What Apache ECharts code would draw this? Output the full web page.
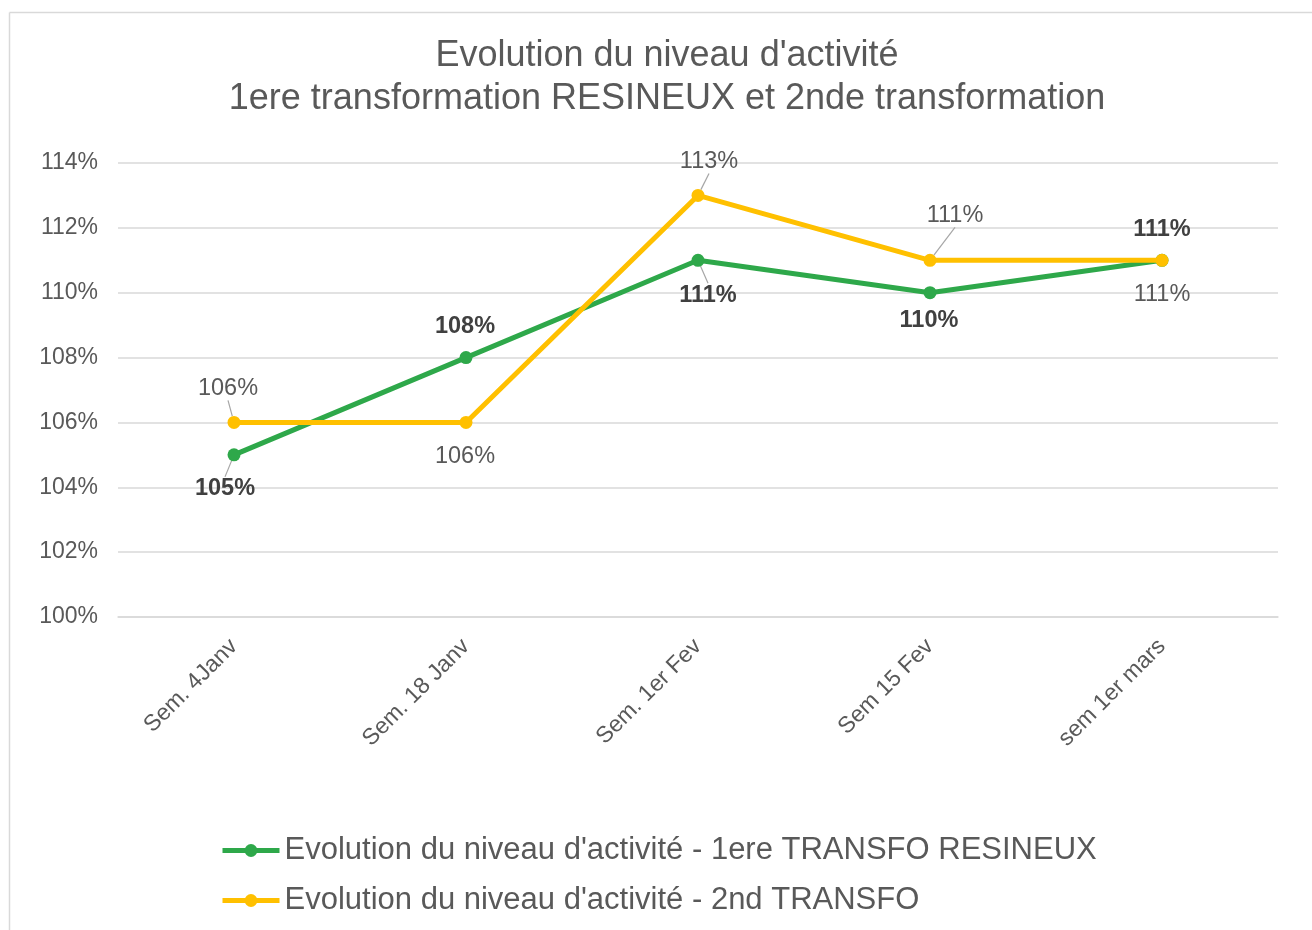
<!DOCTYPE html>
<html>
<head>
<meta charset="utf-8">
<script src="https://cdn.jsdelivr.net/npm/echarts@6/dist/echarts.min.js"></script>
<style>
html,body{margin:0;padding:0;background:#fff;}
#main{width:1312px;height:930px;}
</style>
</head>
<body>
<div id="main"></div>
<script>
const categories = ['Sem. 4Janv', 'Sem. 18 Janv', 'Sem. 1er Fev', 'Sem 15 Fev', 'sem 1er mars'];
const seriesNames = ["Evolution du niveau d'activité - 1ere TRANSFO RESINEUX", "Evolution du niveau d'activité - 2nd TRANSFO"];
const resineux = [105, 108, 111, 110, 111];
const secondTransfo = [106, 106, 113, 111, 111];
const yTicks = { min: 100, max: 114, interval: 2 };

// label placement (offset of label centre from the point, px) and leader-line flags
const labelOffsets = [
  [[-9, 34], [-1, -31], [10, 35], [-1, 28], [0, -31]],
  [[-6, -34], [-1, 34], [11, -34], [25, -45], [0, 34]]
];
const leaders = [
  [true, false, true, false, false],
  [true, false, true, true, false]
];

const FONT = '"Liberation Sans", Arial, sans-serif';
const chart = echarts.init(document.getElementById('main'));

function buildData(vals, si) {
  return vals.map((v, i) => ({
    value: v,
    labelLine: { show: leaders[si][i], lineStyle: { color: '#a6a6a6', width: 1.2 } }
  }));
}

chart.setOption({
  backgroundColor: '#fff',
  animation: false,
  textStyle: { fontFamily: FONT },
  graphic: [
    { type: 'line', shape: { x1: 9.5, y1: 12.5, x2: 1312, y2: 12.5 }, style: { stroke: '#d9d9d9', lineWidth: 1.5 } },
    { type: 'line', shape: { x1: 9.5, y1: 12.5, x2: 9.5, y2: 930 }, style: { stroke: '#d9d9d9', lineWidth: 1.5 } }
  ],
  title: {
    text: "Evolution du niveau d'activité\n1ere transformation RESINEUX et 2nde transformation",
    left: 667,
    textAlign: 'center',
    top: 35,
    padding: 0,
    textStyle: { fontFamily: FONT, fontSize: 36, fontWeight: 'normal', color: '#595959', lineHeight: 43 }
  },
  legend: {
    orient: 'vertical',
    left: 220,
    top: 835,
    padding: 0,
    itemWidth: 57,
    itemHeight: 16,
    itemGap: 19,
    lineStyle: { width: 5 },
    textStyle: { fontFamily: FONT, fontSize: 31, color: '#595959' },
    data: seriesNames
  },
  grid: { left: 118, right: 34, top: 163, bottom: 313, containLabel: false },
  xAxis: {
    type: 'category',
    data: categories,
    boundaryGap: true,
    axisLine: { show: true, lineStyle: { color: '#d9d9d9', width: 1.5 } },
    axisTick: { show: false },
    axisLabel: { rotate: 45, fontSize: 23, color: '#595959', margin: 26, fontFamily: FONT, interval: 0 }
  },
  yAxis: {
    type: 'value',
    min: yTicks.min,
    max: yTicks.max,
    interval: yTicks.interval,
    axisLine: { show: false },
    axisTick: { show: false },
    splitLine: { lineStyle: { color: '#d9d9d9', width: 1.5 } },
    axisLabel: { formatter: '{value}%', fontSize: 23, color: '#595959', margin: 20, fontFamily: FONT }
  },
  series: [
    {
      name: seriesNames[0],
      type: 'line',
      data: buildData(resineux, 0),
      color: '#2ea84a',
      lineStyle: { width: 5, color: '#2ea84a' },
      symbol: 'circle',
      symbolSize: 13,
      itemStyle: { color: '#2ea84a' },
      z: 3,
      label: {
        show: true, position: 'inside', formatter: '{c}%',
        fontSize: 23.5, fontWeight: 'bold', color: '#404040', fontFamily: FONT
      },
      labelLayout: p => ({ dx: labelOffsets[0][p.dataIndex][0], dy: labelOffsets[0][p.dataIndex][1] })
    },
    {
      name: seriesNames[1],
      type: 'line',
      data: buildData(secondTransfo, 1),
      color: '#ffc000',
      lineStyle: { width: 5, color: '#ffc000' },
      symbol: 'circle',
      symbolSize: 13,
      itemStyle: { color: '#ffc000' },
      z: 4,
      label: {
        show: true, position: 'inside', formatter: '{c}%',
        fontSize: 23.5, fontWeight: 'normal', color: '#595959', fontFamily: FONT
      },
      labelLayout: p => ({ dx: labelOffsets[1][p.dataIndex][0], dy: labelOffsets[1][p.dataIndex][1] })
    }
  ]
});
</script>
</body>
</html>
